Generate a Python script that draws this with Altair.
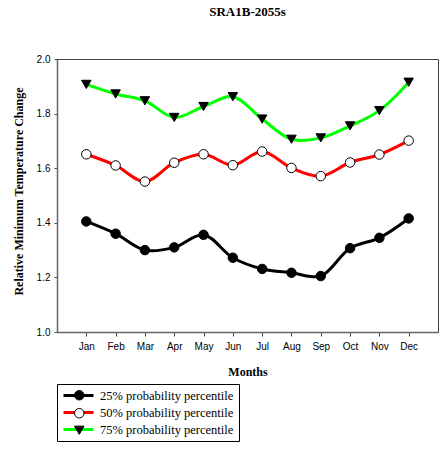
import altair as alt
import pandas as pd

# Monthly relative change in minimum temperature, SRA1B scenario, 2055s
months = ["Jan", "Feb", "Mar", "Apr", "May", "Jun",
          "Jul", "Aug", "Sep", "Oct", "Nov", "Dec"]
series_names = ["25% probability percentile",
                "50% probability percentile",
                "75% probability percentile"]
p25 = [1.405, 1.360, 1.300, 1.310, 1.356, 1.272, 1.231, 1.217, 1.205, 1.307, 1.345, 1.416]
p50 = [1.651, 1.610, 1.551, 1.620, 1.651, 1.611, 1.661, 1.601, 1.571, 1.621, 1.650, 1.701]
p75 = [1.907, 1.872, 1.847, 1.786, 1.826, 1.862, 1.780, 1.706, 1.711, 1.755, 1.811, 1.915]
y_ticks = [1.0, 1.2, 1.4, 1.6, 1.8, 2.0]

line_colors = ["#000000", "#ff0000", "#00ff00"]
marker_fills = ["#000000", "#ffffff", "#000000"]
marker_shapes = ["circle", "circle", "triangle-down"]

rows = []
for name, vals in zip(series_names, [p25, p50, p75]):
    for m, v in zip(months, vals):
        rows.append({"month": m, "series": name, "value": v})
df = pd.DataFrame(rows)

serif = "Liberation Serif"
sans = "Liberation Sans"

x_enc = alt.X(
    "month:N", sort=months,
    scale=alt.Scale(type="point", padding=1),
    axis=alt.Axis(title="Months", labelAngle=0, tickSize=4, labelPadding=5,
                  titlePadding=15, grid=False),
)
y_enc = alt.Y(
    "value:Q",
    scale=alt.Scale(domain=[1.0, 2.0], nice=False, zero=False),
    axis=alt.Axis(title="Relative Minimum Temperature Change", values=y_ticks,
                  format=".1f", tickSize=3, labelPadding=4, titlePadding=11,
                  titleY=132, grid=False),
)

# legend drawn as two stacked legends: coloured line segments underneath,
# the black-outlined markers on top of them
line_legend = alt.Legend(
    title=None, orient="none", legendX=0, legendY=325,
    symbolType="M-3,0H3", symbolSize=100, symbolStrokeWidth=3,
    symbolOffset=10, labelOffset=15,
    labelFont=serif, labelFontSize=12.5, labelColor="black", labelLimit=400,
    padding=5, rowPadding=4, strokeColor="black",
)
marker_legend = alt.Legend(
    title=None, orient="none", legendX=0, legendY=325,
    symbolSize=90, symbolStrokeWidth=1,
    symbolOffset=11, labelOffset=15,
    labelFont=serif, labelFontSize=12.5, labelOpacity=0, labelLimit=400,
    padding=5, rowPadding=4,
)

lines = alt.Chart(df).mark_line(interpolate="catmull-rom", strokeWidth=3).encode(
    x=x_enc, y=y_enc,
    stroke=alt.Stroke("series:N",
                      scale=alt.Scale(domain=series_names, range=line_colors),
                      legend=line_legend),
)

points = alt.Chart(df).mark_point(
    filled=True, size=90, stroke="black", strokeWidth=1, opacity=1
).encode(
    x=x_enc, y=y_enc,
    shape=alt.Shape("series:N", scale=alt.Scale(range=marker_shapes),
                    legend=marker_legend),
    fill=alt.Fill("series:N", scale=alt.Scale(range=marker_fills),
                  legend=marker_legend),
)

chart = alt.layer(lines, points).properties(
    width=381, height=273,
    autosize=alt.AutoSizeParams(type="none"),
    padding={"left": 57, "top": 59, "right": 5, "bottom": 122},
    background="white",
    title=alt.Title("SRA1B-2055s", font=serif, fontSize=13, fontWeight="bold",
                    color="black", anchor="middle", offset=35),
).configure_view(
    stroke="#444", strokeWidth=1
).configure_axis(
    grid=False,
    domainColor="#666", domainWidth=1.5, tickColor="#444",
    labelFont=sans, labelFontSize=10, labelColor="black",
    titleFont=serif, titleFontSize=12, titleFontWeight="bold", titleColor="black",
)

chart.save("out.html", embed_options={"renderer": "svg", "actions": False})
